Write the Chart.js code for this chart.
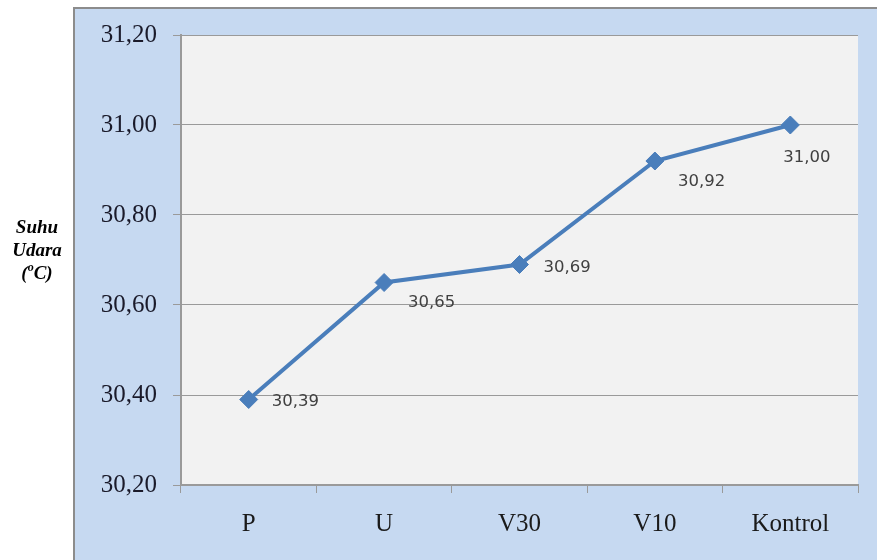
<!DOCTYPE html>
<html>
<head>
<meta charset="utf-8">
<script src="https://cdn.jsdelivr.net/npm/chart.js@4/dist/chart.umd.min.js"></script>
<style>
  html, body { margin: 0; padding: 0; background: #ffffff; }
  #wrap { width: 877px; height: 560px; }
</style>
</head>
<body>
<div id="wrap"><canvas id="c" width="877" height="560"></canvas></div>
<script>
// Air temperature per treatment
const categories = ['P', 'U', 'V30', 'V10', 'Kontrol'];
const suhuUdara = [30.39, 30.65, 30.69, 30.92, 31.00];
const yMin = 30.2;
const yMax = 31.2;
const yStep = 0.2;

const fmt = v => Number(v).toFixed(2).replace('.', ',');

// label placement relative to each point (dx, dy in px)
const labelOffsets = [[23, 2], [24, 20], [24, 3], [23, 21], [-7, 33]];

const LINE_BLUE = '#4a7ebb';
const GRID_GREY = '#9a9a9a';

const backgroundPanel = {
  id: 'backgroundPanel',
  beforeDraw(chart) {
    const ctx = chart.ctx;
    const { left, top, right, bottom } = chart.chartArea;
    ctx.save();
    ctx.fillStyle = '#ffffff';
    ctx.fillRect(0, 0, chart.width, chart.height);
    ctx.fillStyle = '#c6d9f1';
    ctx.fillRect(73, 7, chart.width - 73, chart.height - 7);
    ctx.strokeStyle = '#8c8c8c';
    ctx.lineWidth = 2;
    ctx.beginPath();
    ctx.moveTo(74, chart.height);
    ctx.lineTo(74, 8);
    ctx.lineTo(chart.width, 8);
    ctx.stroke();
    ctx.fillStyle = '#f2f2f2';
    ctx.fillRect(left, top, right - left, bottom - top);
    ctx.restore();
  }
};

const axisTitle = {
  id: 'axisTitle',
  afterDraw(chart) {
    const ctx = chart.ctx;
    const cx = 37;
    ctx.save();
    ctx.fillStyle = '#000000';
    ctx.textBaseline = 'middle';
    ctx.textAlign = 'center';
    ctx.font = 'italic bold 19px "Liberation Serif"';
    ctx.fillText('Suhu', cx, 228);
    ctx.fillText('Udara', cx, 251);
    // "(°C)" with a raised small o
    const big = 'italic bold 19px "Liberation Serif"';
    const small = 'italic bold 12px "Liberation Serif"';
    ctx.font = big;
    const wOpen = ctx.measureText('(').width;
    const wRest = ctx.measureText('C)').width;
    ctx.font = small;
    const wO = ctx.measureText('o').width;
    const total = wOpen + wO + wRest;
    let x = cx - total / 2;
    const y = 274;
    ctx.textAlign = 'left';
    ctx.font = big;
    ctx.fillText('(', x, y);
    x += wOpen;
    ctx.font = small;
    ctx.fillText('o', x, y - 6);
    x += wO;
    ctx.font = big;
    ctx.fillText('C)', x, y);
    ctx.restore();
  }
};

const valueLabels = {
  id: 'valueLabels',
  afterDatasetsDraw(chart) {
    const ctx = chart.ctx;
    const meta = chart.getDatasetMeta(0);
    ctx.save();
    ctx.font = '16.5px "DejaVu Sans"';
    ctx.fillStyle = '#404040';
    ctx.textAlign = 'left';
    ctx.textBaseline = 'middle';
    meta.data.forEach((pt, i) => {
      const [dx, dy] = labelOffsets[i];
      ctx.fillText(fmt(suhuUdara[i]), pt.x + dx, pt.y + dy);
    });
    ctx.restore();
  }
};

new Chart(document.getElementById('c'), {
  type: 'line',
  data: {
    labels: categories,
    datasets: [{
      data: suhuUdara,
      borderColor: LINE_BLUE,
      backgroundColor: LINE_BLUE,
      borderWidth: 4,
      tension: 0,
      pointStyle: 'rectRot',
      pointRadius: 9,
      pointHoverRadius: 9,
      pointBorderWidth: 1,
      pointBorderColor: LINE_BLUE,
      pointBackgroundColor: LINE_BLUE
    }]
  },
  options: {
    responsive: false,
    animation: false,
    devicePixelRatio: 1,
    layout: { padding: { left: 74, right: 19, top: 35, bottom: 0 } },
    plugins: {
      legend: { display: false },
      tooltip: { enabled: false },
      title: { display: false }
    },
    scales: {
      x: {
        offset: true,
        afterFit(scale) { scale.height = 75; },
        grid: {
          offset: true,
          drawOnChartArea: false,
          drawTicks: true,
          tickLength: 8,
          color: GRID_GREY,
          lineWidth: 1
        },
        border: { display: true, color: GRID_GREY, width: 2 },
        ticks: {
          padding: 16,
          color: '#1a1a1a',
          font: { family: '"Liberation Serif"', size: 25 }
        }
      },
      y: {
        min: yMin,
        max: yMax,
        afterFit(scale) { scale.width = 107; },
        grid: {
          drawOnChartArea: true,
          drawTicks: true,
          tickLength: 8,
          color: GRID_GREY,
          lineWidth: 1
        },
        border: { display: true, color: GRID_GREY, width: 2 },
        ticks: {
          stepSize: yStep,
          padding: 16,
          color: '#1a1a2a',
          font: { family: '"Liberation Serif"', size: 25 },
          callback: v => fmt(v)
        }
      }
    }
  },
  plugins: [backgroundPanel, valueLabels, axisTitle]
});
</script>
</body>
</html>
